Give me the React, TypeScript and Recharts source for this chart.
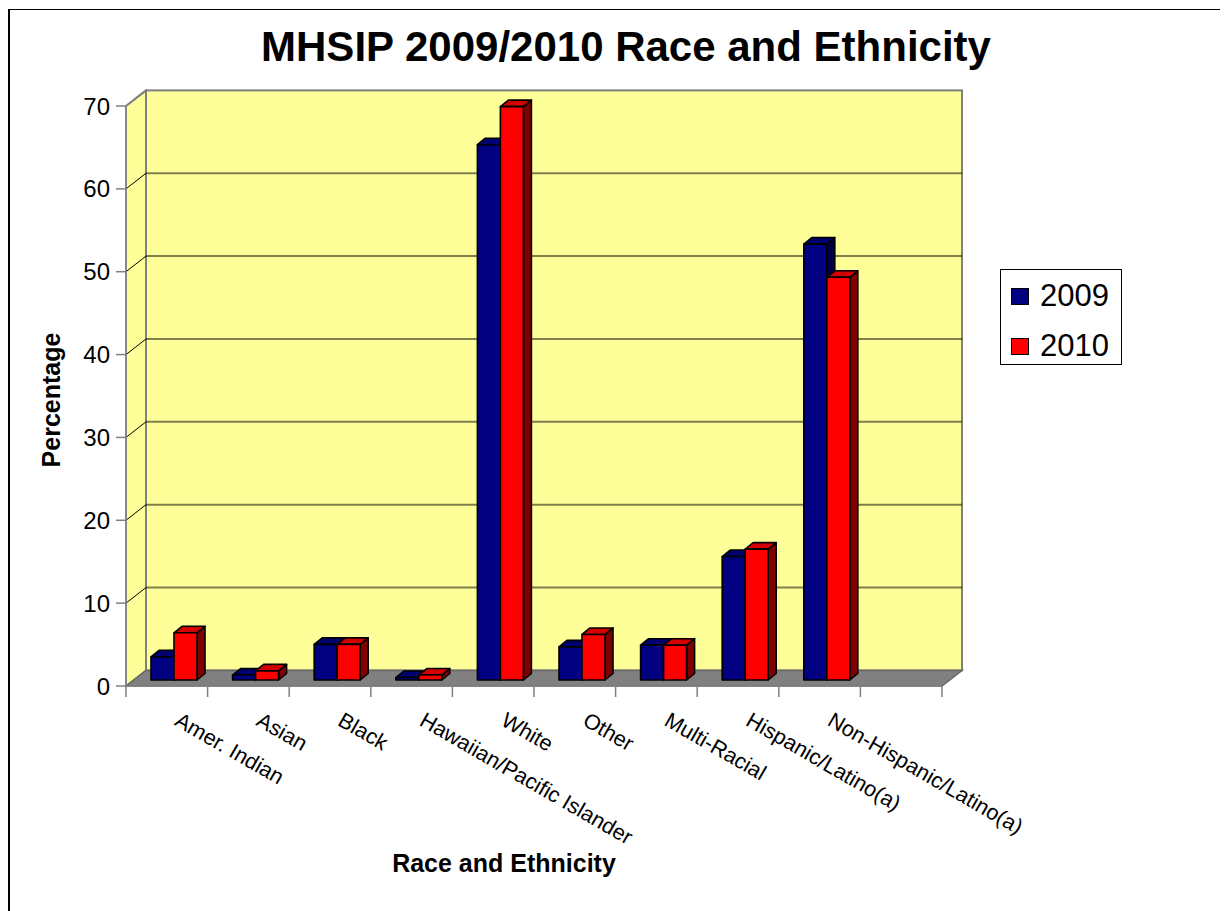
import { BarChart, Bar, XAxis, YAxis, ReferenceArea, Legend } from 'recharts'

// values (percent)
const categories = [
  'Amer. Indian',
  'Asian',
  'Black',
  'Hawaiian/Pacific Islander',
  'White',
  'Other',
  'Multi-Racial',
  'Hispanic/Latino(a)',
  'Non-Hispanic/Latino(a)',
  '',
]
const values2009 = [2.8, 0.6, 4.3, 0.3, 64.6, 4.0, 4.2, 14.9, 52.6, null]
const values2010 = [5.7, 1.1, 4.3, 0.6, 69.2, 5.5, 4.2, 15.8, 48.6, null]
const yTicks = [0, 10, 20, 30, 40, 50, 60, 70]
const seriesNames = ['2009', '2010']

const data = categories.map((name, i) => ({
  name,
  v2009: values2009[i],
  v2010: values2010[i],
}))

const FONT = '"Liberation Sans", Arial, sans-serif'
const WIDTH = 1220
const HEIGHT = 903

// 3D look: full wall depth and bar offset/depth
const DEPTH_X = 20
const DEPTH_Y = -15.6
const BAR_SHIFT_X = 7
const BAR_SHIFT_Y = -6
const BAR_DEPTH_X = 8
const BAR_DEPTH_Y = -6.5

const COLORS = {
  '2009': { front: '#000080', top: '#00006e', side: '#000048' },
  '2010': { front: '#ff0000', top: '#d40000', side: '#800000' },
}

function make3DBar(c: { front: string; top: string; side: string }) {
  return function Bar3D(props: any) {
    const { x, y, width, height } = props
    if (x == null || y == null || !width || height == null || isNaN(height)) return null
    const fx = x + BAR_SHIFT_X
    const fy = y + BAR_SHIFT_Y
    const dx = BAR_DEPTH_X
    const dy = BAR_DEPTH_Y
    return (
      <g stroke="#000" strokeWidth={1.6} strokeLinejoin="round">
        <polygon
          points={`${fx + width},${fy} ${fx + width + dx},${fy + dy} ${fx + width + dx},${fy + height + dy} ${fx + width},${fy + height}`}
          fill={c.side}
        />
        <polygon
          points={`${fx},${fy} ${fx + width},${fy} ${fx + width + dx},${fy + dy} ${fx + dx},${fy + dy}`}
          fill={c.top}
        />
        <rect x={fx} y={fy} width={width} height={height} fill={c.front} />
      </g>
    )
  }
}

// walls, floor, gridlines and category boundary ticks
function Walls(props: any) {
  const { x, y, width, height } = props
  if (x == null || y == null) return null
  const max = yTicks[yTicks.length - 1]
  const bottom = y + height
  const slot = width / categories.length
  return (
    <g>
      <polygon
        points={`${x},${y} ${x + DEPTH_X},${y + DEPTH_Y} ${x + DEPTH_X},${bottom + DEPTH_Y} ${x},${bottom}`}
        fill="#ffff99"
        stroke="#808080"
        strokeWidth={1.5}
      />
      <rect
        x={x + DEPTH_X}
        y={y + DEPTH_Y}
        width={width}
        height={height}
        fill="#ffff99"
        stroke="#808080"
        strokeWidth={2}
      />
      {yTicks.map((v) => {
        const yy = y + height * (1 - v / max)
        return (
          <g key={v}>
            {v > 0 && v < max && (
              <line
                x1={x + DEPTH_X}
                y1={yy + DEPTH_Y}
                x2={x + DEPTH_X + width}
                y2={yy + DEPTH_Y}
                stroke="#000"
                strokeOpacity={0.5}
                strokeWidth={2}
              />
            )}
            <line
              x1={x}
              y1={yy}
              x2={x + DEPTH_X}
              y2={yy + DEPTH_Y}
              stroke={v === max ? '#808080' : '#000'}
              strokeWidth={v === max ? 2 : 1}
            />
          </g>
        )
      })}
      <polygon
        points={`${x},${bottom} ${x + width},${bottom} ${x + width + DEPTH_X},${bottom + DEPTH_Y} ${x + DEPTH_X},${bottom + DEPTH_Y}`}
        fill="#808080"
        stroke="#6a6a6a"
        strokeWidth={1.5}
      />
      {categories.map((_, i) => (
        <line
          key={`t-${i}`}
          x1={x + i * slot}
          y1={bottom}
          x2={x + i * slot}
          y2={bottom + 11}
          stroke="#808080"
          strokeWidth={1.5}
        />
      ))}
      <line
        x1={x + width}
        y1={bottom}
        x2={x + width}
        y2={bottom + 11}
        stroke="#808080"
        strokeWidth={1.5}
      />
    </g>
  )
}

function XTick(props: any) {
  const { x, y, payload } = props
  if (!payload || !payload.value) return null
  return (
    <text
      x={0}
      y={0}
      transform={`translate(${x + 6.6},${y + 38.5}) rotate(30)`}
      textAnchor="start"
      fontSize={21.6}
      fontFamily={FONT}
      fill="#000"
    >
      {payload.value}
    </text>
  )
}

function LegendBox() {
  const keys = seriesNames
  return (
    <div
      style={{
        position: 'relative',
        width: 122,
        height: 96,
        boxSizing: 'border-box',
        border: '1.5px solid #000',
        background: '#fff',
        fontFamily: FONT,
      }}
    >
      {keys.map((k, i) => (
        <div key={k}>
          <div
            style={{
              position: 'absolute',
              left: 10,
              top: 18 + i * 49.5,
              width: 18,
              height: 17,
              boxSizing: 'border-box',
              border: '1.5px solid #000',
              background: COLORS[k as '2009' | '2010'].front,
            }}
          />
          <div
            style={{
              position: 'absolute',
              left: 39,
              top: 9 + i * 49.5,
              fontSize: 31,
              lineHeight: '34px',
              color: '#000',
            }}
          >
            {k}
          </div>
        </div>
      ))}
    </div>
  )
}

export default function App() {
  return (
    <div style={{ position: 'relative', width: WIDTH, height: HEIGHT, overflow: 'hidden', background: '#fff' }}>
      <div
        style={{
          position: 'absolute',
          left: 0,
          top: 1,
          width: WIDTH + 40,
          height: HEIGHT + 40,
          borderLeft: '2px solid #000',
          borderTop: '1.5px solid #000',
        }}
      />
      <div style={{ position: 'absolute', left: 0, top: 0 }}>
        <BarChart
          width={WIDTH}
          height={HEIGHT}
          data={data}
          margin={{ top: 98, right: 286, bottom: 164, left: 0 }}
          barCategoryGap={18}
          barGap={0}
        >
          <ReferenceArea y1={0} y2={70} shape={Walls} zIndex={-150} ifOverflow="visible" />
          <XAxis
            dataKey="name"
            interval={0}
            height={61}
            tickSize={0}
            tickMargin={0}
            tickLine={false}
            axisLine={{ stroke: '#808080', strokeWidth: 1.5 }}
            tick={<XTick />}
          />
          <YAxis
            width={118}
            domain={[0, 70]}
            ticks={yTicks}
            interval={0}
            tickSize={10}
            tickMargin={6}
            axisLine={{ stroke: '#808080', strokeWidth: 1.5 }}
            tickLine={{ stroke: '#808080', strokeWidth: 1.5 }}
            tick={{ fontSize: 24, fontFamily: FONT, fill: '#000' }}
          />
          <Legend
            layout="vertical"
            align="center"
            verticalAlign="middle"
            wrapperStyle={{ left: 992, top: 261, width: 122, height: 96 }}
            content={<LegendBox />}
          />
          <Bar dataKey="v2009" name="2009" isAnimationActive={false} shape={make3DBar(COLORS['2009'])} />
          <Bar dataKey="v2010" name="2010" isAnimationActive={false} shape={make3DBar(COLORS['2010'])} />
        </BarChart>
      </div>
      <svg
        width={WIDTH}
        height={HEIGHT}
        style={{ position: 'absolute', left: 0, top: 0, pointerEvents: 'none' }}
      >
        <text x={618} y={52.7} textAnchor="middle" fontSize={42} fontWeight="bold" fontFamily={FONT}>
          MHSIP 2009/2010 Race and Ethnicity
        </text>
        <text
          x={51.5}
          y={392}
          transform="rotate(-90, 51.5, 392)"
          textAnchor="middle"
          fontSize={25}
          fontWeight="bold"
          fontFamily={FONT}
        >
          Percentage
        </text>
        <text x={496} y={863.7} textAnchor="middle" fontSize={25} fontWeight="bold" fontFamily={FONT}>
          Race and Ethnicity
        </text>
      </svg>
    </div>
  )
}
